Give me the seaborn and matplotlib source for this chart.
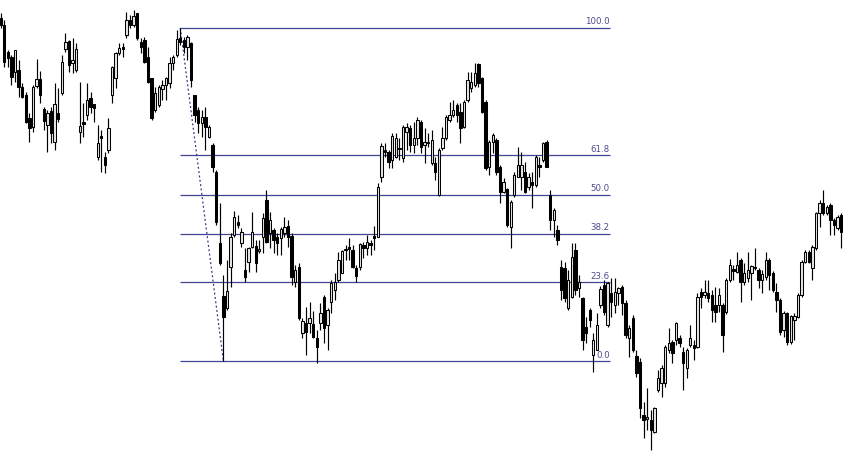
import numpy as np
import pandas as pd
import matplotlib
matplotlib.use("Agg")
import matplotlib.pyplot as plt
import seaborn as sns

# =========================
# CANDLE DATA (one row per bar)
# =========================

opens = [
    436, 429, 402, 397, 382, 384, 367, 359, 336, 327, 368, 375, 345, 329, 343, 312, 341, 361, 405, 413,
    391, 384, 322, 332, 339, 356, 350, 297, 318, 297, 304, 359, 376, 401, 407, 419, 434, 429, 441, 412,
    414, 397, 376, 344, 349, 365, 369, 371, 391, 399, 416, 414, 407, 411, 359, 344, 331, 337, 317, 309,
    282, 211, 158, 146, 187, 219, 232, 211, 184, 192, 207, 208, 203, 217, 254, 221, 224, 217, 216, 221,
    228, 218, 172, 187, 121, 131, 131, 130, 116, 131, 157, 129, 152, 164, 174, 181, 205, 207, 204, 186,
    187, 209, 206, 211, 218, 217, 277, 304, 302, 294, 297, 306, 296, 322, 326, 309, 316, 332, 309, 312,
    291, 291, 259, 306, 316, 334, 339, 349, 342, 327, 354, 366, 369, 390, 376, 352, 287, 312, 314, 287,
    262, 265, 227, 259, 277, 277, 282, 267, 272, 269, 289, 294, 312, 259, 234, 224, 187, 186, 146, 157,
    204, 166, 156, 127, 144, 99, 104, 149, 169, 129, 161, 149, 161, 167, 151, 116, 136, 98, 92, 39,
    35, 34, 22, 64, 71, 71, 104, 112, 114, 116, 102, 86, 109, 109, 107, 162, 159, 161, 159, 149,
    149, 149, 142, 174, 185, 182, 194, 172, 176, 181, 187, 184, 174, 177, 194, 181, 162, 154, 124, 141,
    112, 134, 137, 159, 192, 202, 186, 206, 241, 251, 241, 249, 234, 226, 239,
]
highs = [
    441, 434, 404, 399, 404, 394, 371, 362, 341, 369, 395, 383, 347, 344, 347, 371, 366, 399, 421, 414,
    416, 411, 372, 351, 371, 362, 350, 329, 324, 302, 336, 388, 402, 411, 411, 442, 439, 444, 441, 416,
    417, 407, 376, 367, 369, 374, 377, 397, 399, 424, 426, 417, 419, 412, 359, 347, 344, 347, 329, 311,
    284, 251, 179, 194, 221, 243, 239, 226, 206, 207, 242, 214, 214, 241, 264, 242, 226, 221, 227, 237,
    234, 221, 189, 191, 136, 147, 152, 143, 124, 151, 159, 146, 174, 181, 202, 204, 209, 216, 209, 189,
    211, 212, 219, 214, 228, 271, 311, 311, 304, 321, 321, 316, 329, 331, 329, 332, 337, 334, 326, 321,
    324, 297, 306, 327, 339, 352, 354, 351, 351, 354, 382, 382, 391, 391, 377, 354, 314, 321, 316, 289,
    276, 266, 254, 282, 307, 302, 292, 281, 282, 299, 297, 312, 314, 264, 246, 229, 194, 192, 184, 211,
    211, 179, 157, 137, 146, 121, 141, 168, 174, 172, 176, 176, 167, 169, 154, 129, 139, 104, 96, 52,
    66, 44, 47, 84, 89, 109, 126, 114, 132, 119, 107, 106, 129, 114, 161, 166, 174, 174, 164, 167,
    166, 151, 176, 195, 189, 202, 196, 191, 202, 189, 206, 186, 184, 202, 196, 183, 171, 156, 143, 142,
    139, 141, 161, 194, 204, 204, 209, 242, 254, 264, 249, 251, 236, 239, 241,
]
lows = [
    426, 387, 387, 369, 372, 357, 356, 331, 312, 322, 366, 351, 324, 302, 311, 304, 332, 359, 402, 382,
    381, 382, 311, 317, 334, 341, 332, 294, 282, 281, 301, 351, 366, 399, 397, 416, 426, 427, 414, 401,
    391, 371, 334, 342, 347, 354, 354, 366, 384, 397, 409, 401, 394, 367, 332, 321, 317, 304, 316, 282,
    229, 189, 93, 144, 167, 217, 226, 207, 172, 182, 206, 182, 201, 201, 211, 206, 201, 199, 199, 217,
    207, 169, 167, 134, 116, 99, 121, 116, 91, 124, 111, 104, 141, 154, 172, 181, 194, 194, 186, 172,
    184, 196, 199, 199, 204, 217, 272, 297, 286, 286, 296, 294, 292, 304, 302, 301, 309, 301, 291, 307,
    289, 274, 258, 304, 314, 332, 337, 332, 311, 326, 352, 362, 367, 367, 341, 284, 279, 301, 279, 251,
    261, 227, 206, 257, 277, 264, 261, 264, 246, 267, 277, 292, 287, 224, 217, 209, 154, 152, 144, 156,
    159, 157, 104, 111, 127, 82, 104, 146, 139, 127, 137, 141, 149, 139, 116, 97, 102, 77, 36, 16,
    24, 4, 21, 62, 57, 67, 101, 91, 109, 107, 64, 76, 107, 94, 106, 146, 156, 152, 132, 132,
    142, 102, 140, 172, 174, 181, 152, 169, 172, 154, 184, 166, 161, 174, 164, 162, 142, 119, 117, 109,
    110, 114, 136, 157, 191, 191, 174, 204, 227, 239, 239, 219, 219, 224, 206,
]
closes = [
    429, 392, 396, 377, 404, 367, 357, 332, 326, 367, 375, 359, 333, 341, 321, 350, 335, 392, 412, 389,
    394, 405, 328, 330, 354, 347, 346, 311, 316, 289, 326, 387, 401, 406, 405, 434, 429, 438, 416, 407,
    392, 372, 336, 361, 367, 369, 376, 391, 397, 415, 412, 407, 417, 374, 339, 331, 337, 327, 327, 287,
    232, 191, 137, 163, 217, 237, 229, 222, 177, 206, 222, 191, 205, 236, 212, 234, 214, 211, 225, 227,
    217, 177, 184, 136, 133, 122, 136, 117, 107, 141, 126, 144, 171, 172, 194, 203, 204, 205, 187, 178,
    210, 206, 212, 209, 216, 267, 308, 302, 292, 318, 316, 305, 327, 327, 309, 316, 334, 307, 312, 311,
    314, 282, 304, 316, 337, 339, 344, 339, 326, 352, 374, 372, 381, 371, 342, 286, 312, 319, 282, 262,
    272, 229, 252, 279, 289, 289, 262, 277, 269, 297, 287, 311, 287, 234, 244, 214, 164, 156, 174, 197,
    164, 172, 114, 121, 134, 114, 129, 165, 142, 171, 152, 162, 166, 151, 119, 126, 104, 81, 46, 34,
    37, 24, 46, 76, 86, 107, 111, 101, 131, 111, 91, 104, 116, 106, 157, 157, 162, 156, 144, 142,
    159, 119, 174, 189, 183, 189, 172, 181, 184, 188, 186, 174, 180, 194, 179, 164, 154, 122, 141, 112,
    138, 138, 159, 192, 202, 192, 207, 241, 251, 241, 247, 234, 229, 237, 222,
]

# fibonacci retracement drawn from the swing high bar to the swing low bar
swing_high_bar = 50
swing_low_bar = 62
fib_ratios = [0.0, 23.6, 38.2, 50.0, 61.8, 100.0]

df = pd.DataFrame({"open": opens, "high": highs, "low": lows, "close": closes})
df["bar"] = np.arange(len(df))
up = df[df["close"] >= df["open"]]
down = df[df["close"] < df["open"]]

# =========================
# PLOT
# =========================

sns.set_theme(style="white")
fig = plt.figure(figsize=(8.44, 4.54), dpi=100)
ax = fig.add_axes([0, 0, 1, 1])

# wicks
ax.vlines(df["bar"], df["low"], df["high"], color="black", linewidth=0.85, zorder=2)

# bodies
w = 0.66
ax.bar(up["bar"], up["close"] - up["open"], bottom=up["open"], width=w,
       color="#e6e6e6", edgecolor="black", linewidth=0.75, zorder=3)
ax.bar(down["bar"], down["open"] - down["close"], bottom=down["close"], width=w,
       color="black", edgecolor="black", linewidth=0.75, zorder=3)

# fib levels
hi = df.loc[swing_high_bar, "high"]
lo = df.loc[swing_low_bar, "low"]
fib_end = 169.6
line_col = "#2f2f8c"
for r in fib_ratios:
    lvl = lo + (hi - lo) * r / 100.0
    ax.hlines(lvl, swing_high_bar, fib_end, color=line_col, linewidth=0.9, alpha=0.9, zorder=1)
    ax.text(fib_end, lvl + 1.5, f"{r:.1f}", ha="right", va="bottom",
            fontsize=6.2, color="#4b4b8f", family="DejaVu Sans", zorder=4)

# dotted trend line
trend = pd.DataFrame({"x": [swing_high_bar, swing_low_bar], "y": [hi, lo]})
sns.lineplot(data=trend, x="x", y="y", ax=ax, color=line_col, linestyle=(0, (1.5, 2)),
             linewidth=0.9, zorder=1)

ax.set_xlim(-0.2, 234.8)
ax.set_ylim(0, 454)
ax.axis("off")

fig.savefig("out.png", dpi=100, facecolor="white")
